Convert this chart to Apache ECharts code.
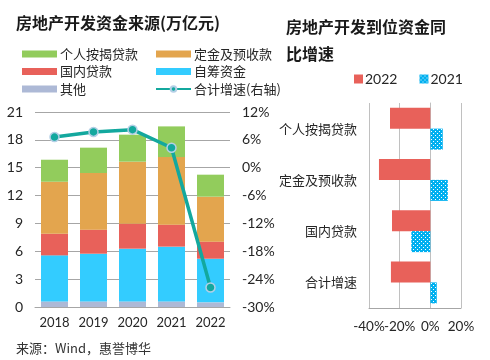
<!DOCTYPE html>
<html><head><meta charset="utf-8">
<script src="https://cdn.jsdelivr.net/npm/echarts@6/dist/echarts.min.js"></script>
<style>html,body{margin:0;padding:0;background:#fff}#c{width:490px;height:360px}</style>
</head><body><div id="c"></div>
<script>
// Left chart data (万亿元)
const years = ['2018','2019','2020','2021','2022'];
const other = [0.6, 0.6, 0.6, 0.6, 0.5];
const selfRaised = [4.96, 5.14, 5.68, 5.9, 4.7];
const domesticLoans = [2.33, 2.59, 2.69, 2.37, 1.84];
const deposits = [5.6, 6.1, 6.68, 7.28, 4.84];
const mortgages = [2.37, 2.73, 2.91, 3.3, 2.37];
const totalGrowth = [6.6, 7.7, 8.2, 4.3, -25.8];
const leftTicks = [0, 3, 6, 9, 12, 15, 18, 21];
const rightTicks = [-30, -24, -18, -12, -6, 0, 6, 12];
// Right chart data (%)
const yoyCats = ['个人按揭贷款', '定金及预收款', '国内贷款', '合计增速'];
const yoy2022 = [-26.3, -33.5, -25.0, -25.7];
const yoy2021 = [8.1, 11.4, -12.4, 4.2];
const yoyTicks = [-40, -20, 0, 20];

const FONT = 'Lato, "Noto Sans CJK SC", sans-serif';
const CJK = '"Noto Sans CJK SC", sans-serif';
const TXT = '#262626';
const GRID = '#a6a6a6';

// dotted pattern
const pc = document.createElement('canvas');
pc.width = 4; pc.height = 4;
const px = pc.getContext('2d');
px.fillStyle = '#00b0f0'; px.fillRect(0,0,4,4);
px.fillStyle = '#ffffff'; px.fillRect(1,1,1,1); px.fillRect(3,3,1,1);
const dotted = {image: pc, repeat: 'repeat'};

const chart = echarts.init(document.getElementById('c'), null, {renderer:'canvas'});
const barStyle = (name, data, color) => ({
  name, type:'bar', stack:'s', data, xAxisIndex:0, yAxisIndex:0,
  barWidth:27, itemStyle:{color}, emphasis:{disabled:true}
});
const yoyAxis = (show, extra) => Object.assign({gridIndex:1, type:'value', position:'bottom', offset:0,
  min:yoyTicks[0], max:yoyTicks[yoyTicks.length-1], interval:20,
  axisLine:{show:show, onZero:false, lineStyle:{color:GRID}}, axisTick:{show:false},
  splitLine:{show:show, lineStyle:{color:'#c0c0c0'}}}, extra);
chart.setOption({
  animation:false,
  textStyle:{fontFamily:FONT},
  title:[
    {text:'房地产开发资金来源(万亿元)', left:11, top:10, textStyle:{fontFamily:CJK, fontSize:16, fontWeight:'bold', color:'#1a1a1a'}},
    {text:'房地产开发到位资金同\n比增速', left:281, top:8, textStyle:{fontFamily:CJK, fontSize:16, fontWeight:'bold', color:'#1a1a1a', lineHeight:27}},
    {text:'来源：Wind，惠誉博华', left:11, top:337, textStyle:{fontFamily:CJK, fontSize:13, fontWeight:'normal', color:'#333'}}
  ],
  legend:[
    {left:17, top:42, orient:'vertical', itemWidth:35, itemHeight:7, itemGap:3.5,
     textStyle:{fontFamily:CJK, fontSize:13, color:TXT, lineHeight:14, padding:[0,0,0,-2]},
     data:[{name:'个人按揭贷款',icon:'rect'},{name:'国内贷款',icon:'rect'},{name:'其他',icon:'rect'}]},
    {left:150, top:42, orient:'vertical', itemWidth:35, itemHeight:7, itemGap:3.5,
     textStyle:{fontFamily:CJK, fontSize:13, color:TXT, lineHeight:14, padding:[0,0,0,-2]},
     data:[{name:'定金及预收款',icon:'rect'},{name:'自筹资金',icon:'rect'},{name:'合计增速(右轴)'}]},
    {left:349, top:67, orient:'horizontal', itemWidth:9, itemHeight:9, itemGap:22,
     textStyle:{fontFamily:FONT, fontSize:14, color:TXT, padding:[0,0,0,-3]},
     data:[{name:'2022',icon:'rect'},{name:'2021',icon:'rect'}]}
  ],
  grid:[
    {left:35, right:260, top:112, bottom:53},
    {left:369, right:29, top:103, bottom:52}
  ],
  xAxis:[
    {gridIndex:0, type:'category', data:years,
     axisLine:{lineStyle:{color:GRID}}, axisTick:{show:false},
     axisLabel:{color:TXT, fontSize:13, margin:9, interval:0, hideOverlap:false}},
    yoyAxis(true, {axisLabel:{color:TXT, fontSize:13.5, margin:12, showMinLabel:true, showMaxLabel:true,
      formatter:v => (v === -20 ? '' : v + '%')}}),
    yoyAxis(false, {axisLabel:{color:TXT, fontSize:13.5, margin:12,
      formatter:v => (v === -20 ? v + '%' : '')}})
  ],
  yAxis:[
    {gridIndex:0, type:'value', min:leftTicks[0], max:leftTicks[leftTicks.length-1], interval:3,
     axisLine:{show:false}, axisTick:{show:false},
     splitLine:{lineStyle:{color:GRID}},
     axisLabel:{color:TXT, fontSize:14, margin:12}},
    {gridIndex:0, type:'value', min:rightTicks[0], max:rightTicks[rightTicks.length-1], interval:6,
     axisLine:{show:false}, axisTick:{show:false}, splitLine:{show:false},
     axisLabel:{color:TXT, fontSize:14, margin:12, formatter:'{value}%'}},
    {gridIndex:1, type:'category', data:yoyCats, inverse:true,
     axisLine:{show:true, lineStyle:{color:'#c0c0c0'}}, axisTick:{show:false},
     axisLabel:{color:TXT, fontSize:13, fontFamily:CJK, margin:12, interval:0}}
  ],
  series:[
    barStyle('其他', other, '#adb9d6'),
    barStyle('自筹资金', selfRaised, '#33ccff'),
    barStyle('国内贷款', domesticLoans, '#e8615a'),
    barStyle('定金及预收款', deposits, '#e3a54e'),
    barStyle('个人按揭贷款', mortgages, '#92cc5c'),
    {name:'合计增速(右轴)', type:'line', xAxisIndex:0, yAxisIndex:1, data:totalGrowth,
     lineStyle:{color:'#13a89e', width:3.5}, symbol:'circle', symbolSize:9,
     itemStyle:{color:'#13a89e', borderColor:'#b4cfe6', borderWidth:1.5}, z:5},
    {name:'2022', type:'bar', xAxisIndex:1, yAxisIndex:2, data:yoy2022,
     barWidth:21, barGap:'0%', itemStyle:{color:'#e8615a'}},
    {name:'2021', type:'bar', xAxisIndex:1, yAxisIndex:2, data:yoy2021,
     barWidth:21, barGap:'0%', itemStyle:{color:dotted}}
  ]
});
</script></body></html>
